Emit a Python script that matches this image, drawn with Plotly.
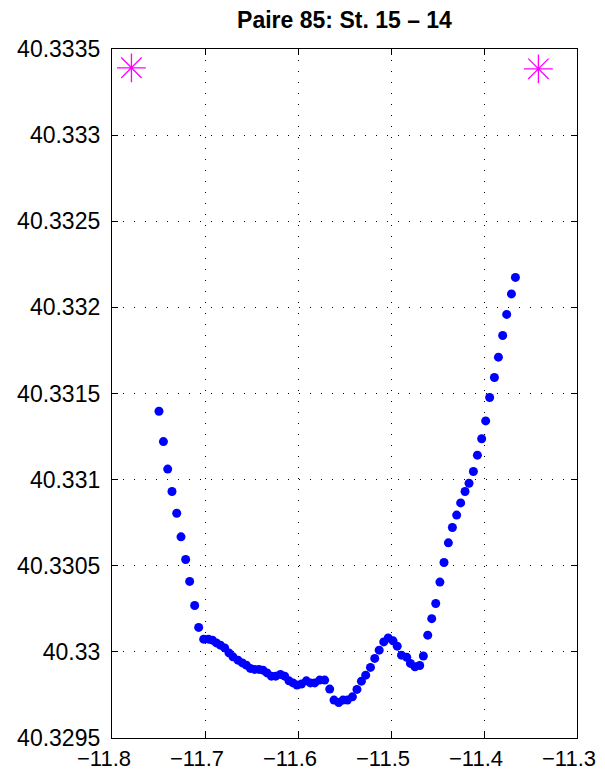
import plotly.graph_objects as go

# trajectoire (points bleus)
x_pts = [
    -11.7495, -11.7447, -11.7401, -11.7355, -11.7304, -11.7258, -11.7208, -11.7165,
    -11.7111, -11.7068, -11.7014, -11.6963, -11.6920, -11.6877, -11.6834, -11.6788,
    -11.6742, -11.6699, -11.6645, -11.6598, -11.6555, -11.6512, -11.6466, -11.6419,
    -11.6376, -11.6333, -11.6286, -11.6240, -11.6189, -11.6143, -11.6097, -11.6054,
    -11.6011, -11.5963, -11.5910, -11.5867, -11.5820, -11.5767, -11.5713, -11.5659,
    -11.5613, -11.5562, -11.5516, -11.5469, -11.5415, -11.5366, -11.5318, -11.5272,
    -11.5221, -11.5175, -11.5127, -11.5078, -11.5030, -11.4978, -11.4933, -11.4887,
    -11.4831, -11.4791, -11.4742, -11.4691, -11.4652, -11.4605, -11.4562, -11.4519,
    -11.4474, -11.4430, -11.4383, -11.4340, -11.4294, -11.4251, -11.4204, -11.4161,
    -11.4114, -11.4071, -11.4025, -11.3982, -11.3939, -11.3888, -11.3845, -11.3799,
    -11.3756, -11.3705, -11.3662,
]
y_pts = [
    40.331397, 40.331221, 40.331061, 40.330931, 40.330805, 40.330668, 40.330536, 40.330409,
    40.330269, 40.330142, 40.330074, 40.330074, 40.330068, 40.330052, 40.330039, 40.330023,
    40.329994, 40.329971, 40.329952, 40.329936, 40.329923, 40.329904, 40.329898, 40.329898,
    40.329894, 40.329878, 40.329859, 40.329859, 40.329869, 40.329859, 40.329832, 40.329820,
    40.329807, 40.329813, 40.329832, 40.329820, 40.329820, 40.329836, 40.329836, 40.329784,
    40.329720, 40.329706, 40.329720, 40.329720, 40.329739, 40.329782, 40.329830, 40.329865,
    40.329910, 40.329962, 40.330010, 40.330058, 40.330081, 40.330064, 40.330033, 40.329981,
    40.329969, 40.329933, 40.329913, 40.329921, 40.329976, 40.330097, 40.330193, 40.330281,
    40.330405, 40.330519, 40.330633, 40.330722, 40.330794, 40.330865, 40.330931, 40.330979,
    40.331047, 40.331142, 40.331237, 40.331341, 40.331477, 40.331593, 40.331711, 40.331837,
    40.331959, 40.332078, 40.332174,
]

# stations (étoiles magenta)
x_st = [-11.7791, -11.3415]
y_st = [40.333391, 40.333385]

x_ticks = [-11.8, -11.7, -11.6, -11.5, -11.4, -11.3]
x_labels = ["\u221211.8", "\u221211.7", "\u221211.6", "\u221211.5", "\u221211.4", "\u221211.3"]
y_ticks = [40.3295, 40.33, 40.3305, 40.331, 40.3315, 40.332, 40.3325, 40.333, 40.3335]
y_labels = ["40.3295", "40.33", "40.3305", "40.331", "40.3315", "40.332", "40.3325", "40.333", "40.3335"]

fig = go.Figure()
fig.add_trace(go.Scatter(
    x=x_pts, y=y_pts, mode="markers",
    marker=dict(color="#0000ff", size=9, line=dict(width=0)),
))
fig.add_trace(go.Scatter(
    x=x_st, y=y_st, mode="markers",
    marker=dict(symbol="asterisk-open", color="#ff00ff", size=24,
                line=dict(color="#ff00ff", width=1.3)),
))

axis_common = dict(
    showline=True, linecolor="black", linewidth=1.3, mirror="ticks",
    ticks="inside", ticklen=6, tickcolor="black",
    showgrid=True, gridcolor="black", gridwidth=1, griddash="1px,10px",
    zeroline=False, automargin=False, ticklabeloverflow="allow",
    tickfont=dict(family="Liberation Sans, Arial", size=23, color="black"),
)

fig.update_xaxes(range=[-11.8, -11.3], tickvals=x_ticks, ticktext=x_labels,
                 ticklabelshift=-8, **axis_common)
fig.update_yaxes(range=[40.3295, 40.3335], tickvals=y_ticks, ticktext=y_labels,
                 ticklabelstandoff=6, **axis_common)
fig.update_xaxes(tickfont_size=22)

# la page ajoute ~8px de marge autour du graphique
fig.update_layout(
    width=597, height=773,
    margin=dict(l=104, r=28, t=41, b=43),
    plot_bgcolor="white", paper_bgcolor="white",
    showlegend=False,
    title=dict(text="<b>Paire 85: St. 15 \u2013 14</b>", xref="paper", x=0.5,
               xanchor="center", yref="container", y=0.985, yanchor="middle",
               font=dict(family="Liberation Sans, Arial", size=23, color="black")),
)

fig.write_html("out.html")
